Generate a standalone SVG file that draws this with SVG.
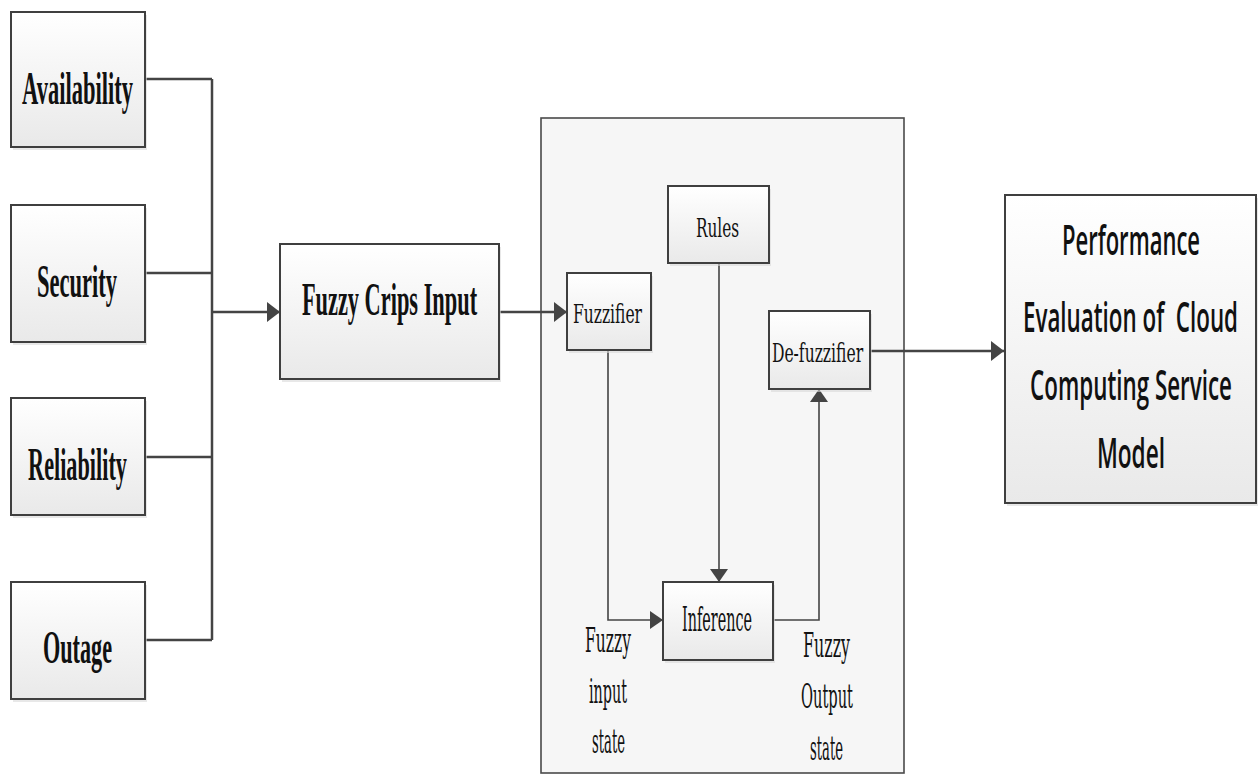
<svg xmlns="http://www.w3.org/2000/svg" width="1258" height="776" viewBox="0 0 1258 776">
<style>
.box{fill:url(#g);stroke:#3f3f3f;stroke-width:2}
.shadow{fill:#d9d9d9;opacity:0.6}
text{text-anchor:middle}
.tb{font-family:"Liberation Serif","Times New Roman",serif;font-weight:bold;font-size:46px;fill:#111}
.ts{font-family:"DejaVu Serif",serif;font-size:26px;fill:#111}
.tl{font-family:"DejaVu Serif",serif;font-size:34px;fill:#111}
.tc{font-family:"Open Sans","Liberation Sans",sans-serif;font-weight:600;font-size:42px;fill:#111;white-space:pre}
.c{fill:none;stroke:#444;stroke-width:2.5}
.ci{fill:none;stroke:#444;stroke-width:1.6}
</style>
<defs>
<linearGradient id="g" x1="0" y1="0" x2="0" y2="1">
<stop offset="0" stop-color="#ffffff"/>
<stop offset="1" stop-color="#e9e9e9"/>
</linearGradient>
<marker id="ah" markerUnits="userSpaceOnUse" markerWidth="14" markerHeight="20" refX="13" refY="10" orient="auto">
<path d="M0,0 L13,10 L0,20 Z" fill="#444"/>
</marker>
<marker id="ahs" markerUnits="userSpaceOnUse" markerWidth="14" markerHeight="18" refX="13" refY="9" orient="auto">
<path d="M0,0 L13,9 L0,18 Z" fill="#444"/>
</marker>
</defs>
<rect width="1258" height="776" fill="#ffffff"/>

<g id="container">
<rect x="541" y="118" width="363" height="655" fill="#f6f6f6" stroke="#4a4a4a" stroke-width="1.6"/>
</g>

<g id="connectors">
<polyline class="c" points="145,79 212,79"/>
<polyline class="c" points="145,273 212,273"/>
<polyline class="c" points="145,457 212,457"/>
<polyline class="c" points="145,640 212,640"/>
<polyline class="c" points="212,79 212,640"/>
<polyline class="c" points="212,312 280,312" marker-end="url(#ah)"/>
<polyline class="c" points="499,312 567,312" marker-end="url(#ah)"/>
<polyline class="ci" points="608,350 608,620 663,620" marker-end="url(#ahs)"/>
<polyline class="ci" points="719,263 719,582" marker-end="url(#ahs)"/>
<polyline class="ci" points="773,620 819,620 819,389" marker-end="url(#ahs)"/>
<polyline class="c" points="870,351 1004,351" marker-end="url(#ah)"/>
</g>

<g id="availability">
<rect class="shadow" x="13" y="15" width="134" height="135"/>
<rect class="box" x="11" y="12" width="134" height="135"/>
<text class="tb" transform="translate(77.5,104) scale(0.48,1)" textLength="231" lengthAdjust="spacingAndGlyphs">Availability</text>
</g>
<g id="security">
<rect class="shadow" x="13" y="208" width="134" height="137"/>
<rect class="box" x="11" y="205" width="134" height="137"/>
<text class="tb" transform="translate(77,297) scale(0.48,1)" textLength="167" lengthAdjust="spacingAndGlyphs">Security</text>
</g>
<g id="reliability">
<rect class="shadow" x="13" y="401" width="134" height="117"/>
<rect class="box" x="11" y="398" width="134" height="117"/>
<text class="tb" transform="translate(77.5,480) scale(0.48,1)" textLength="206" lengthAdjust="spacingAndGlyphs">Reliability</text>
</g>
<g id="outage">
<rect class="shadow" x="13" y="585" width="134" height="117"/>
<rect class="box" x="11" y="582" width="134" height="117"/>
<text class="tb" transform="translate(77.5,663) scale(0.48,1)" textLength="144" lengthAdjust="spacingAndGlyphs">Outage</text>
</g>
<g id="fuzzy-crips-input">
<rect class="shadow" x="282" y="247" width="219" height="135"/>
<rect class="box" x="280" y="244" width="219" height="135"/>
<text class="tb" transform="translate(389.5,315) scale(0.48,1)" textLength="365" lengthAdjust="spacingAndGlyphs">Fuzzy Crips Input</text>
</g>
<g id="rules">
<rect class="shadow" x="670" y="189" width="101" height="77"/>
<rect class="box" x="668" y="186" width="101" height="77"/>
<text class="ts" transform="translate(717.5,237) scale(0.6,1)" textLength="72" lengthAdjust="spacingAndGlyphs">Rules</text>
</g>
<g id="fuzzifier">
<rect class="shadow" x="569" y="276" width="84" height="77"/>
<rect class="box" x="567" y="273" width="84" height="77"/>
<text class="ts" transform="translate(607.5,323) scale(0.6,1)" textLength="115" lengthAdjust="spacingAndGlyphs">Fuzzifier</text>
</g>
<g id="de-fuzzifier">
<rect class="shadow" x="771" y="314" width="101" height="78"/>
<rect class="box" x="769" y="311" width="101" height="78"/>
<text class="ts" transform="translate(817.5,362) scale(0.6,1)" textLength="152" lengthAdjust="spacingAndGlyphs">De-fuzzifier</text>
</g>
<g id="inference">
<rect class="shadow" x="665" y="585" width="110" height="78"/>
<rect class="box" x="663" y="582" width="110" height="78"/>
<text class="tl" transform="translate(717,631) scale(0.5,1)" textLength="140" lengthAdjust="spacingAndGlyphs">Inference</text>
</g>
<g id="fuzzy-input-state">
<text class="tl" transform="translate(608,652) scale(0.5,1)" textLength="92" lengthAdjust="spacingAndGlyphs">Fuzzy</text>
<text class="tl" transform="translate(608,703) scale(0.5,1)" textLength="76" lengthAdjust="spacingAndGlyphs">input</text>
<text class="tl" transform="translate(608.5,753) scale(0.5,1)" textLength="66" lengthAdjust="spacingAndGlyphs">state</text>
</g>
<g id="fuzzy-output-state">
<text class="tl" transform="translate(826.5,657) scale(0.5,1)" textLength="94" lengthAdjust="spacingAndGlyphs">Fuzzy</text>
<text class="tl" transform="translate(827,708) scale(0.5,1)" textLength="104" lengthAdjust="spacingAndGlyphs">Output</text>
<text class="tl" transform="translate(826.5,760) scale(0.5,1)" textLength="66" lengthAdjust="spacingAndGlyphs">state</text>
</g>
<g id="performance">
<rect class="shadow" x="1007" y="198" width="251" height="308"/>
<rect class="box" x="1005" y="195" width="251" height="308"/>
<text class="tc" transform="translate(1131,255) scale(0.55,1)" textLength="251" lengthAdjust="spacingAndGlyphs">Performance</text>
<text class="tc" transform="translate(1130.5,332) scale(0.55,1)" textLength="391" lengthAdjust="spacingAndGlyphs">Evaluation of  Cloud</text>
<text class="tc" transform="translate(1131,400) scale(0.55,1)" textLength="367" lengthAdjust="spacingAndGlyphs">Computing Service</text>
<text class="tc" transform="translate(1131,468) scale(0.55,1)" textLength="124" lengthAdjust="spacingAndGlyphs">Model</text>
</g>
</svg>
